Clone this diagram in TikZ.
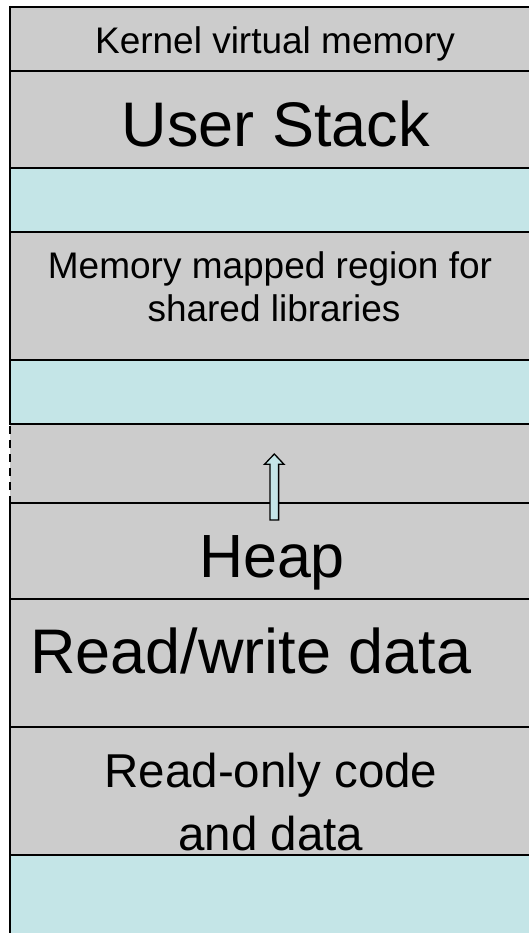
\documentclass[tikz,border=0pt]{standalone}
\usepackage{fontspec}
\setmainfont{Liberation Sans}
\definecolor{seggray}{RGB}{204,204,204}
\definecolor{segcyan}{RGB}{196,229,231}
\begin{document}
\begin{tikzpicture}[x=1pt,y=-1pt,
  border/.style={line width=2pt,draw=black},
  lbl/.style={anchor=base,inner sep=0pt,text=black},
  growarrow/.style={fill=segcyan,draw=black,line width=1.3pt,line join=miter}]
\clip (0,0) rectangle (529,933);
% fills
\fill[seggray] (10,7) rectangle (540,168);
\fill[segcyan] (10,168) rectangle (540,232);
\fill[seggray] (10,232) rectangle (540,360);
\fill[segcyan] (10,360) rectangle (540,424);
\fill[seggray] (10,424) rectangle (540,855);
\fill[segcyan] (10,855) rectangle (540,940);
% horizontal boundaries
\foreach \yy in {7,71,168,232,360,424,503,599,727,855}
  \draw[border] (9,\yy) -- (540,\yy);
% left border
\draw[border] (10.3,6) -- (10.3,424);
\draw[line width=2pt,dash pattern=on 8pt off 6pt] (10.3,426) -- (10.3,503);
\draw[border] (10.3,503) -- (10.3,940);
% growth arrow
\draw[growarrow] (270,520) -- (270,464.3) -- (264.5,464.3) -- (274.3,454)
  -- (284,464.3) -- (278.6,464.3) -- (278.6,520) -- cycle;
% labels
\node[lbl,font=\fontsize{37}{42}\selectfont] (kernel) at (275,54) {Kernel virtual memory};
\node[lbl,font=\fontsize{63}{72}\selectfont] (stack) at (276,147) {User Stack};
\node[lbl,font=\fontsize{37}{42}\selectfont] (mmap1) at (270,278) {Memory mapped region for};
\node[lbl,font=\fontsize{37}{42}\selectfont] (mmap2) at (274,321) {shared libraries};
\node[lbl,font=\fontsize{61}{70}\selectfont] (heap) at (272,577) {Heap};
\node[lbl,font=\fontsize{63}{70}\selectfont] (rw) at (251,673) {Read/write data};
\node[lbl,font=\fontsize{47.5}{56}\selectfont] (ro1) at (271,787) {Read-only code};
\node[lbl,font=\fontsize{47.5}{56}\selectfont] (ro2) at (271,850) {and data};
\end{tikzpicture}
\end{document}
